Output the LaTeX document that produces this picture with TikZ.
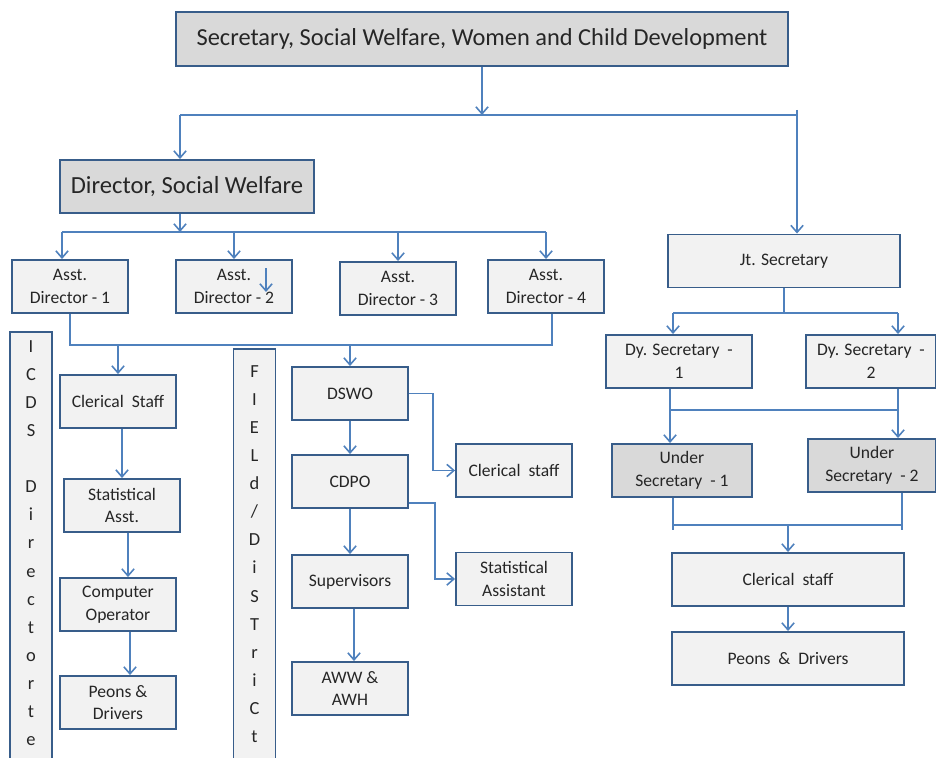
\documentclass[tikz,border=0pt]{standalone}
\usepackage{fontspec}
\setmainfont{Carlito}
\usetikzlibrary{arrows.meta}
\definecolor{linkblue}{RGB}{79,129,189}
\definecolor{edgeblue}{RGB}{56,93,138}
\definecolor{boxgray}{RGB}{242,242,242}
\definecolor{headgray}{RGB}{217,217,217}
\tikzset{
  box/.style={draw=edgeblue, fill=boxgray, line width=1.1pt, text=black!85,
    minimum width=2.32cm, minimum height=1.06cm, inner sep=1pt, align=center,
    font=\fontsize{10}{13}\selectfont},
  headbox/.style={box, fill=headgray},
  tallbar/.style={draw=edgeblue, fill=boxgray, line width=1.1pt, minimum width=0.84cm, anchor=north},
  barletters/.style={align=center, inner sep=0pt, anchor=north, text=black!85,
    font=\fontsize{10.5}{16}\selectfont},
  link/.style={draw=linkblue, line width=0.9pt},
  arr/.style={link, -{Straight Barb[length=4pt,width=7pt]}}
}

\begin{document}
\begin{tikzpicture}[x=0.02cm, y=-0.02cm]
  \useasboundingbox (0,0) rectangle (936,757);
  \clip (0,0) rectangle (936,757);

  % top of the chart
  \node[headbox, minimum width=12.24cm, minimum height=1.08cm, font=\fontsize{13.9}{16}\selectfont] (sec) at (482,39)
       {Secretary, Social Welfare, Women and Child Development};
  \node[headbox, minimum width=5.08cm, font=\fontsize{14}{16}\selectfont] (dir) at (187,186.5) {Director, Social Welfare};
  \node[box, minimum width=4.64cm] (jt) at (784,261) {Jt. Secretary};

  % directorate branch
  \node[box] (ad1) at (70,286.5)  {Asst.\\Director - 1};
  \node[box] (ad2) at (234,286.5) {Asst.\\Director - 2};
  \node[box] (ad3) at (398,288.5) {Asst.\\Director - 3};
  \node[box] (ad4) at (546,286.5) {Asst.\\Director - 4};

  \node[tallbar, minimum height=8.8cm] (icds) at (31,331) {};
  \node[barletters] (icdstext) at (31,340) {I\\C\\D\\S\\[16pt]D\\i\\r\\e\\c\\t\\o\\r\\t\\e};
  \node[tallbar, minimum height=8.6cm] (field) at (254.5,348) {};
  \node[barletters] (fieldtext) at (254.5,365) {F\\I\\E\\L\\d\\/\\D\\i\\S\\T\\r\\i\\C\\t};

  \node[box] (cler1) at (118,401.5) {Clerical\ \ Staff};
  \node[box] (stat1) at (122,505.5) {Statistical\\Asst.};
  \node[box] (comp)  at (118,604.5) {Computer\\Operator};
  \node[box] (peon1) at (118,702.5) {Peons \&\\Drivers};

  \node[box] (dswo)  at (350,393.5) {DSWO};
  \node[box] (cdpo)  at (350,481.5) {CDPO};
  \node[box] (sup)   at (350,581.5) {Supervisors};
  \node[box] (aww)   at (350,688.5) {AWW \&\\AWH};
  \node[box] (cler2) at (514,470.5) {Clerical\ \ staff};
  \node[box] (stat2) at (514,579)   {Statistical\\Assistant};

  % secretariat branch
  \node[box, minimum width=2.92cm] (dy1) at (679,361.5) {Dy. Secretary\ \ -\\1};
  \node[box, minimum width=2.6cm]  (dy2) at (871,361.5) {Dy. Secretary\ \ -\\2};
  \node[headbox, minimum width=2.8cm]  (un1) at (682,470.5) {Under\\Secretary\ \ - 1};
  \node[headbox, minimum width=2.56cm] (un2) at (872,465.5) {Under\\Secretary\ \ - 2};
  \node[box, minimum width=4.64cm] (cler3) at (788,579.5) {Clerical\ \ staff};
  \node[box, minimum width=4.64cm] (peon2) at (788,658.5) {Peons\ \ \&\ \ Drivers};

  % bus lines
  \coordinate (busL)  at (180,115);
  \coordinate (busR)  at (797,110);
  \coordinate (bus2L) at (62,232);
  \coordinate (bus3L) at (70,345);
  \coordinate (bus3R) at (552,345);
  \coordinate (bus4L) at (673,313);
  \coordinate (bus4R) at (898,313);
  \coordinate (bus5L) at (670,410);
  \coordinate (bus5R) at (898,410);
  \coordinate (bus6L) at (673,525);
  \coordinate (bus6R) at (902,525);
  \coordinate (stray) at (266,268);

  \draw[arr] (sec.south) -- (sec.south |- busL);
  \draw[link] (busL) -- (busR |- busL);
  \draw[arr] (busL) -- (busL |- dir.north);
  \draw[arr] (busR) -- (busR |- jt.north);

  \draw[arr] (busL |- dir.south) -- (busL |- bus2L);
  \draw[link] (bus2L) -- (ad4.north |- bus2L);
  \draw[arr] (bus2L) -- (bus2L |- ad1.north);
  \draw[arr] (ad2.north |- bus2L) -- (ad2.north);
  \draw[arr] (ad3.north |- bus2L) -- (ad3.north);
  \draw[arr] (ad4.north |- bus2L) -- (ad4.north);
  \draw[arr] (stray) -- ++(0,24);

  \draw[link] (ad1.south) -- (bus3L) -- (bus3R) -- (bus3R |- ad4.south);
  \draw[arr] (cler1.north |- bus3L) -- (cler1.north);
  \draw[arr] (dswo.north |- bus3L) -- (dswo.north);

  \draw[arr] (stat1.north |- cler1.south) -- (stat1.north);
  \draw[arr] ([xshift=0.12cm]stat1.south) -- ([xshift=0.2cm]comp.north);
  \draw[arr] ([xshift=0.24cm]comp.south) -- ([xshift=0.24cm]peon1.north);

  \draw[arr] (dswo) -- (cdpo);
  \draw[arr] (cdpo) -- (sup);
  \draw[arr] ([xshift=0.08cm]sup.south) -- ([xshift=0.08cm]aww.north);
  \draw[arr] (dswo.east) -- ++(24,0) |- (cler2.west);
  \draw[arr] ([yshift=0.12cm]cdpo.south east) -- ++(26,0) |- (stat2.west);

  \draw[link] (jt.south) -- (jt.south |- bus4L);
  \draw[link] (bus4L) -- (bus4R);
  \draw[arr] (bus4L) -- (bus4L |- dy1.north);
  \draw[arr] (bus4R) -- (bus4R |- dy2.north);

  \draw[link] (bus5L) -- (bus5R);
  \draw[arr] (bus5L |- dy1.south) -- (bus5L |- un1.north);
  \draw[arr] (bus5R |- dy2.south) -- (bus5R |- un2.north);

  \draw[link] (bus6L |- un1.south) -- ([yshift=-0.1cm]bus6L);
  \draw[link] (bus6R |- un2.south) -- ([yshift=-0.1cm]bus6R);
  \draw[link] (bus6L) -- (bus6R);
  \draw[arr] (cler3.north |- bus6L) -- (cler3.north);
  \draw[arr] (cler3) -- (peon2);
\end{tikzpicture}
\end{document}
